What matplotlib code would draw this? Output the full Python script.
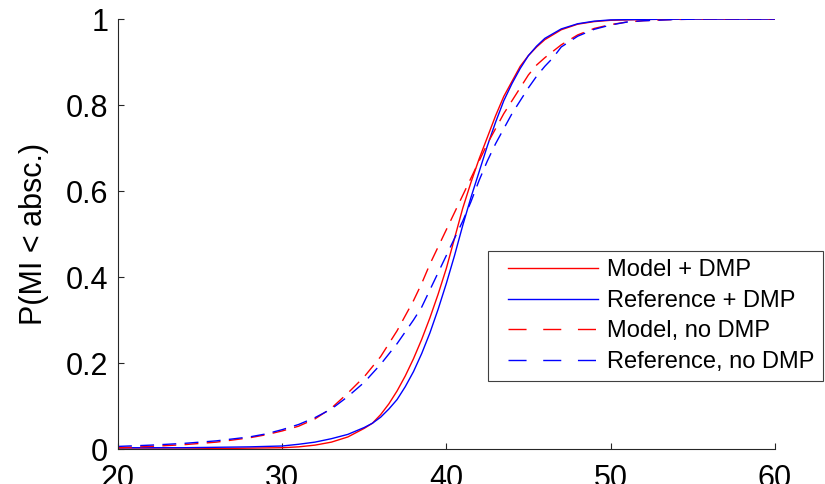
import matplotlib
matplotlib.use("Agg")
import matplotlib.pyplot as plt
from matplotlib.lines import Line2D
from matplotlib.legend_handler import HandlerLine2D

plt.rcParams['font.family'] = ['Liberation Sans', 'DejaVu Sans']

# ---- data ----
x_model_dmp = [20, 22, 24, 26, 28, 30, 31, 32, 33, 34, 35, 35.5, 36, 36.5, 37, 37.5, 38, 38.5, 39, 39.5,
               40, 40.5, 41, 41.5, 42, 42.5, 43, 43.5, 44, 44.5, 45, 45.5, 46, 47, 48, 49, 50, 52, 55, 60]
y_model_dmp = [0, 0, 0, 0.001, 0.002, 0.003, 0.005, 0.009, 0.016, 0.028, 0.048, 0.06, 0.08, 0.105, 0.135,
               0.17, 0.21, 0.255, 0.305, 0.36, 0.42, 0.49, 0.56, 0.62, 0.675, 0.725, 0.775, 0.82, 0.855,
               0.89, 0.915, 0.935, 0.952, 0.975, 0.988, 0.994, 0.997, 0.999, 1, 1]

x_ref_dmp = x_model_dmp
y_ref_dmp = [0.003, 0.003, 0.003, 0.004, 0.005, 0.007, 0.011, 0.016, 0.024, 0.034, 0.05, 0.06, 0.074,
             0.093, 0.115, 0.145, 0.18, 0.222, 0.27, 0.325, 0.385, 0.45, 0.52, 0.585, 0.645, 0.705, 0.76,
             0.81, 0.85, 0.885, 0.915, 0.937, 0.955, 0.977, 0.989, 0.995, 0.998, 0.999, 1, 1]

x_nodmp = [20, 22, 24, 26, 28, 29, 30, 31, 32, 33, 34, 35, 36, 37, 38, 38.5, 39, 39.5, 40, 40.5, 41,
           41.5, 42, 42.5, 43, 43.5, 44, 44.5, 45, 45.5, 46, 46.5, 47, 48, 49, 50, 51, 52, 54, 56, 60]
y_model_nodmp = [0.003, 0.006, 0.01, 0.016, 0.026, 0.033, 0.042, 0.053, 0.07, 0.095, 0.13, 0.168, 0.215,
                 0.275, 0.345, 0.385, 0.43, 0.47, 0.51, 0.55, 0.59, 0.63, 0.67, 0.71, 0.745, 0.78, 0.81,
                 0.84, 0.87, 0.893, 0.91, 0.925, 0.94, 0.963, 0.978, 0.987, 0.993, 0.996, 0.999, 1, 1]
y_ref_nodmp = [0.006, 0.009, 0.013, 0.019, 0.028, 0.035, 0.045, 0.057, 0.073, 0.093, 0.122, 0.155, 0.197,
               0.245, 0.3, 0.33, 0.37, 0.41, 0.45, 0.49, 0.53, 0.575, 0.625, 0.67, 0.71, 0.745, 0.78,
               0.81, 0.84, 0.867, 0.89, 0.91, 0.935, 0.96, 0.976, 0.986, 0.993, 0.996, 0.999, 1, 1]

labels = ['Model + DMP', 'Reference + DMP', 'Model, no DMP', 'Reference, no DMP']
x_ticks = [20, 30, 40, 50, 60]
y_ticks = [0, 0.2, 0.4, 0.6, 0.8, 1]
y_tick_labels = ['0', '0.2', '0.4', '0.6', '0.8', '1']

# ---- figure ----
fig = plt.figure(figsize=(8.25, 4.84), dpi=100)
ax = fig.add_axes([0.143, 0.0723, 0.796, 0.8884])

lw = 1.0
plot_dash = (10, 6)
ax.plot(x_model_dmp, y_model_dmp, color='#ff0000', lw=lw)
ax.plot(x_ref_dmp, y_ref_dmp, color='#0000ff', lw=lw)
ax.plot(x_nodmp, y_model_nodmp, color='#ff0000', lw=lw, dashes=plot_dash)
ax.plot(x_nodmp, y_ref_nodmp, color='#0000ff', lw=lw, dashes=plot_dash)

ax.set_xlim(20, 60)
ax.set_ylim(0, 1)
ax.set_xticks(x_ticks)
ax.set_yticks(y_ticks)
ax.set_yticklabels(y_tick_labels)
for s in ['top', 'right']:
    ax.spines[s].set_visible(False)
for s in ['left', 'bottom']:
    ax.spines[s].set_color('#262626')
    ax.spines[s].set_linewidth(0.8)
ax.tick_params(direction='in', length=4, width=0.8, colors='#262626', labelcolor='black',
               labelsize=22, pad=7)
ax.tick_params(axis='x', pad=11)
ax.set_ylabel('P(MI < absc.)', fontsize=22, labelpad=12)

leg_dash = (13, 12)
handles = [Line2D([], [], color='#ff0000', lw=lw),
           Line2D([], [], color='#0000ff', lw=lw),
           Line2D([], [], color='#ff0000', lw=lw, dashes=leg_dash),
           Line2D([], [], color='#0000ff', lw=lw, dashes=leg_dash)]
hm = {h: HandlerLine2D(numpoints=2, marker_pad=0.5) for h in handles}
leg = ax.legend(handles, labels, loc='upper right', bbox_to_anchor=(0.9976, 0.4814),
                bbox_transform=fig.transFigure, borderaxespad=0, fontsize=17,
                handlelength=4.8, handletextpad=-0.1, borderpad=0.35, labelspacing=0.36,
                fancybox=False, framealpha=1, handler_map=hm)
leg.get_frame().set_edgecolor('#404040')
leg.get_frame().set_linewidth(0.8)

fig.savefig('out.png', dpi=100)
